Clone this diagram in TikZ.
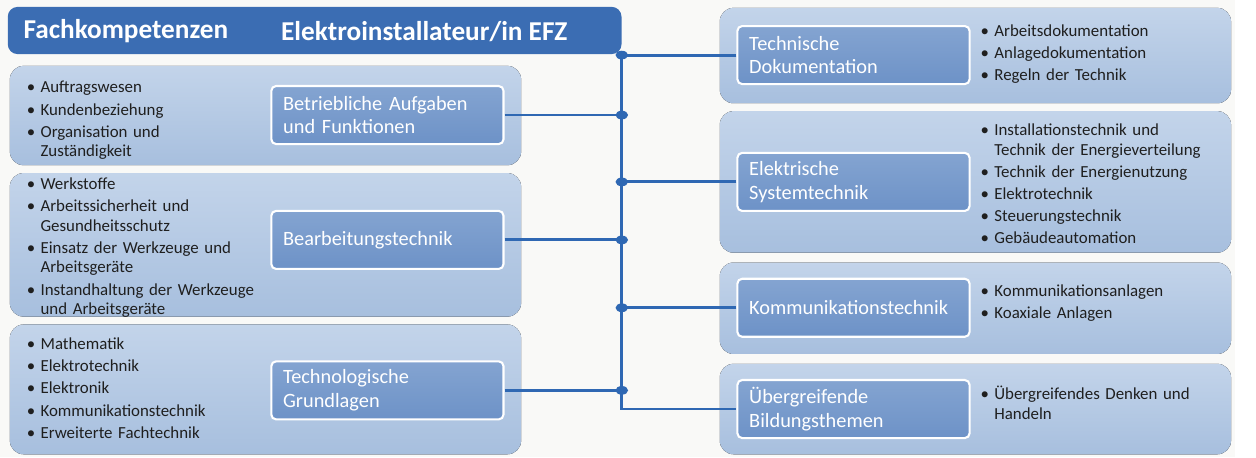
\documentclass[tikz,border=0pt]{standalone}
\usepackage{fontspec}
\setmainfont{Carlito}

\definecolor{headblue}{HTML}{3B6DB3}
\definecolor{lineblue}{HTML}{2F68B3}
\definecolor{paneltop}{HTML}{C3D4EA}
\definecolor{panelbot}{HTML}{A7BFDE}
\definecolor{boxtop}{HTML}{84A4D1}
\definecolor{boxbot}{HTML}{6D92C7}
\definecolor{bgcol}{HTML}{F9F9F7}

\tikzset{
  panel/.style={top color=paneltop, bottom color=panelbot, rounded corners=0.35cm},
  topic/.style={draw=white, line width=1.5pt, top color=boxtop, bottom color=boxbot,
    rounded corners=0.12cm, text=white, font=\fontsize{14.7}{17}\selectfont,
    align=left, text width=5.3cm, inner xsep=0.3cm, minimum height=1.475cm},
  items/.style={anchor=north west, inner sep=0pt, text width=7cm, align=left,
    font=\fontsize{12.2}{14.2}\selectfont, text=black!88,
    execute at begin node={\setlength{\parskip}{1.8pt}\leftskip=0.35cm}},
  trunk/.style={draw=lineblue, line width=2.1pt},
  headtext/.style={anchor=west, text=white, font=\fontsize{19.7}{22}\selectfont\bfseries},
}
\newcommand\bul[1]{\noindent\llap{\makebox[0.35cm][l]{\textbullet}}#1\par}

\begin{document}
\begin{tikzpicture}[x=0.025cm, y=-0.025cm]
  \fill[bgcol] (0,0) rectangle (1256,465);

  % panels
  \fill[panel] (10,67) rectangle (530,168);
  \fill[panel] (10,176) rectangle (530,322);
  \fill[panel] (10,330) rectangle (530,462);
  \fill[panel] (732,8) rectangle (1252,105);
  \fill[panel] (732,113) rectangle (1252,257);
  \fill[panel] (732,267) rectangle (1252,360);
  \fill[panel] (732,370) rectangle (1252,462);

  % header
  \node[fill=headblue, rounded corners=0.25cm, minimum width=15.6cm, minimum height=1.2cm, inner sep=0pt] (head) at (320,31) {};
  \node[headtext] (fach) at (19,32) {Fachkompetenzen};
  \node[headtext] (beruf) at (281,32) {Elektroinstallateur/in EFZ};

  % topics left
  \node[topic] (betr) at (394,117) {Betriebliche Aufgaben\\und Funktionen};
  \node[topic] (bearb) at (394,244) {Bearbeitungstechnik};
  \node[topic] (techno) at (394,397) {Technologische\\Grundlagen};

  % topics right
  \node[topic] (tdok) at (868,56) {Technische\\Dokumentation};
  \node[topic] (elsys) at (868,185) {Elektrische\\Systemtechnik};
  \node[topic] (komm) at (868,313) {Kommunikationstechnik};
  \node[topic] (ueb) at (868,416) {Übergreifende\\Bildungsthemen};

  % lists
  \node[items] (l1) at (27,82.5) {\bul{Auftragswesen}\bul{Kundenbeziehung}\bul{Organisation und\newline Zuständigkeit}};
  \node[items] (l2) at (27,180.5) {\bul{Werkstoffe}\bul{Arbeitssicherheit und\newline Gesundheitsschutz}\bul{Einsatz der Werkzeuge und\newline Arbeitsgeräte}\bul{Instandhaltung der Werkzeuge\newline und Arbeitsgeräte}};
  \node[items] (l3) at (27,343.5) {\bul{Mathematik}\bul{Elektrotechnik}\bul{Elektronik}\bul{Kommunikationstechnik}\bul{Erweiterte Fachtechnik}};
  \node[items] (r1) at (997,24.5) {\bul{Arbeitsdokumentation}\bul{Anlagedokumentation}\bul{Regeln der Technik}};
  \node[items] (r2) at (997,125.5) {\bul{Installationstechnik und\newline Technik der Energieverteilung}\bul{Technik der Energienutzung}\bul{Elektrotechnik}\bul{Steuerungstechnik}\bul{Gebäudeautomation}};
  \node[items] (r3) at (997,289.5) {\bul{Kommunikationsanlagen}\bul{Koaxiale Anlagen}};
  \node[items] (r4) at (997,392.5) {\bul{Übergreifendes Denken und\newline Handeln}};

  % connectors
  \draw[trunk] (head.south east) |- (ueb.west);
  \foreach \t in {betr,bearb,techno} {
    \draw[trunk] (\t.east) -- (\t.east -| head.south east);
    \fill[lineblue] (\t.east -| head.south east) ellipse (0.16cm and 0.11cm);
  }
  \foreach \t in {tdok,elsys,komm} {
    \draw[trunk] (\t.west) -- (\t.west -| head.south east);
    \fill[lineblue] (\t.west -| head.south east) ellipse (0.16cm and 0.11cm);
  }
\end{tikzpicture}
\end{document}
